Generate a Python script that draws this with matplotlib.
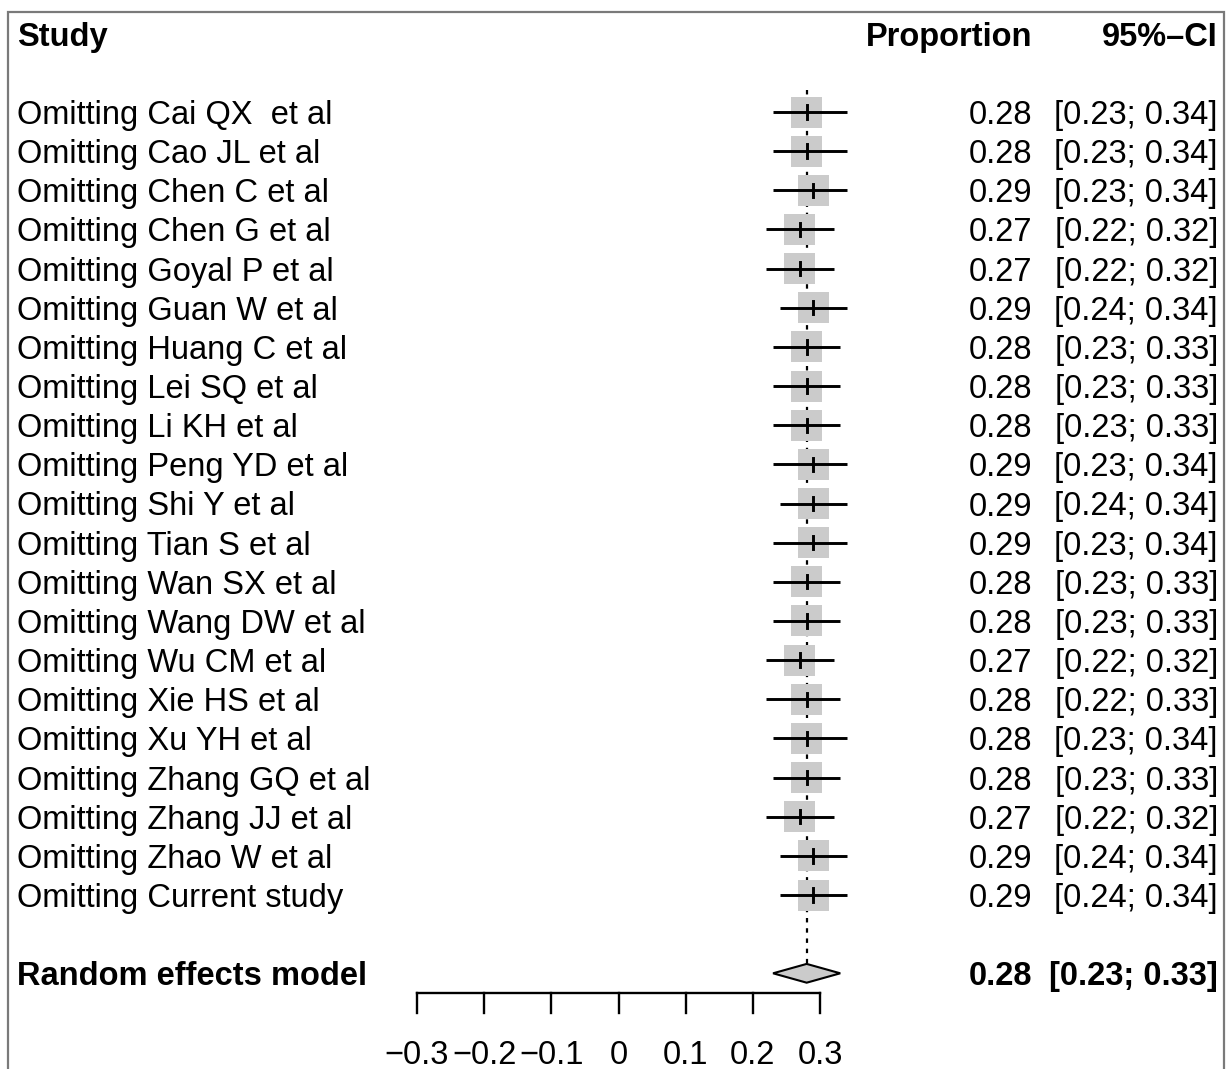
import matplotlib
matplotlib.use("Agg")
import matplotlib.pyplot as plt
from matplotlib.patches import Rectangle, Polygon
from matplotlib import transforms

# Leave-one-out sensitivity analysis (random effects, proportion)
studies = [
    "Omitting Cai QX  et al", "Omitting Cao JL et al", "Omitting Chen C et al",
    "Omitting Chen G et al", "Omitting Goyal P et al", "Omitting Guan W et al",
    "Omitting Huang C et al", "Omitting Lei SQ et al", "Omitting Li KH et al",
    "Omitting Peng YD et al", "Omitting Shi Y et al", "Omitting Tian S et al",
    "Omitting Wan SX et al", "Omitting Wang DW et al", "Omitting Wu CM et al",
    "Omitting Xie HS et al", "Omitting Xu YH et al", "Omitting Zhang GQ et al",
    "Omitting Zhang JJ et al", "Omitting Zhao W et al", "Omitting Current study",
]
proportion = [0.28, 0.28, 0.29, 0.27, 0.27, 0.29, 0.28, 0.28, 0.28, 0.29, 0.29,
              0.29, 0.28, 0.28, 0.27, 0.28, 0.28, 0.28, 0.27, 0.29, 0.29]
ci_lower = [0.23, 0.23, 0.23, 0.22, 0.22, 0.24, 0.23, 0.23, 0.23, 0.23, 0.24,
            0.23, 0.23, 0.23, 0.22, 0.22, 0.23, 0.23, 0.22, 0.24, 0.24]
ci_upper = [0.34, 0.34, 0.34, 0.32, 0.32, 0.34, 0.33, 0.33, 0.33, 0.34, 0.34,
            0.34, 0.33, 0.33, 0.32, 0.33, 0.34, 0.33, 0.32, 0.34, 0.34]

pooled_label = "Random effects model"
pooled_est = 0.28
pooled_lower = 0.23
pooled_upper = 0.33

xticks = [-0.3, -0.2, -0.1, 0, 0.1, 0.2, 0.3]
xtick_labels = ["\u22120.3", "\u22120.2", "\u22120.1", "0", "0.1", "0.2", "0.3"]

W, H = 1231, 1069
DPI = 100
fig = plt.figure(figsize=(W / DPI, H / DPI), dpi=DPI)
plt.rcParams["font.family"] = ["Liberation Sans", "DejaVu Sans"]

# one axes over the whole canvas; x in effect units, y in row units
ax = fig.add_axes([0, 0, 1, 1])
x0_px, x_scale = 618.5, 672.0          # pixel of 0 and pixels per unit
y0_px, row_px = 112.0, 39.15           # pixel of first row and row pitch
ax.set_xlim(-x0_px / x_scale, (W - x0_px) / x_scale)
ax.set_ylim((H - y0_px) / row_px, -y0_px / row_px)
ax.axis("off")

FS = 23.5
txt = transforms.blended_transform_factory(fig.transFigure, ax.transData)
base = 12.0 / row_px   # baseline offset so caps are centred on the row


def fx(px):
    return px / W


# frame
fig.add_artist(Rectangle((8 / W, -0.02), (1224 - 8) / W, 1.02 - 12 / H,
                         transform=fig.transFigure, fill=False,
                         edgecolor="#7a7a7a", linewidth=1.6))

# header
hy = -2 + base
ax.text(fx(17), hy, "Study", transform=txt, fontsize=FS, fontweight="bold", va="baseline", ha="left")
ax.text(fx(1032), hy, "Proportion", transform=txt, fontsize=FS, fontweight="bold", va="baseline", ha="right")
ax.text(fx(1218), hy, "95%\u2013CI", transform=txt, fontsize=FS, fontweight="bold", va="baseline", ha="right")

n = len(studies)
pooled_row = n + 1

# dashed reference line at pooled estimate
ax.plot([pooled_est, pooled_est], [-0.55, pooled_row - 0.24], color="black",
        linewidth=1.6, linestyle=(0, (2.0, 2.6)), zorder=1)

sq_w = 31 / x_scale
sq_h = 31 / row_px
tick_h = 0.17
for i in range(n):
    est, lo, hi = proportion[i], ci_lower[i], ci_upper[i]
    ax.add_patch(Rectangle((est - sq_w / 2, i - sq_h / 2), sq_w, sq_h,
                           facecolor="#cbcbcb", edgecolor="none", zorder=2))
    ax.plot([lo, hi], [i, i], color="black", linewidth=2.1, solid_capstyle="butt", zorder=3)
    ax.plot([est, est], [i - tick_h, i + tick_h], color="black", linewidth=2.1, zorder=3)
    ax.text(fx(17), i + base, studies[i], transform=txt, fontsize=FS, va="baseline", ha="left")
    ax.text(fx(1032), i + base, f"{est:.2f}", transform=txt, fontsize=FS, va="baseline", ha="right")
    ax.text(fx(1218), i + base, f"[{lo:.2f}; {hi:.2f}]", transform=txt, fontsize=FS,
            va="baseline", ha="right")

# pooled diamond
dh = 0.24
ax.add_patch(Polygon([(pooled_lower, pooled_row), (pooled_est, pooled_row - dh),
                      (pooled_upper, pooled_row), (pooled_est, pooled_row + dh)],
                     closed=True, facecolor="#cbcbcb", edgecolor="black", linewidth=1.5, zorder=3))
ax.text(fx(17), pooled_row + base, pooled_label, transform=txt, fontsize=FS,
        fontweight="bold", va="baseline", ha="left")
ax.text(fx(1032), pooled_row + base, f"{pooled_est:.2f}", transform=txt, fontsize=FS,
        fontweight="bold", va="baseline", ha="right")
ax.text(fx(1218), pooled_row + base, f"[{pooled_lower:.2f}; {pooled_upper:.2f}]", transform=txt,
        fontsize=FS, fontweight="bold", va="baseline", ha="right")

# x axis
axis_y = (993 - y0_px) / row_px
tick_end = (1013 - y0_px) / row_px
lab_y = (1052 - y0_px) / row_px + base
ax.plot([xticks[0], xticks[-1]], [axis_y, axis_y], color="black", linewidth=1.7,
        solid_capstyle="projecting")
for t, lab in zip(xticks, xtick_labels):
    ax.plot([t, t], [axis_y, tick_end], color="black", linewidth=1.7)
    ax.text(t, lab_y, lab, fontsize=FS, va="baseline", ha="center")

fig.savefig("out.png", dpi=DPI)
